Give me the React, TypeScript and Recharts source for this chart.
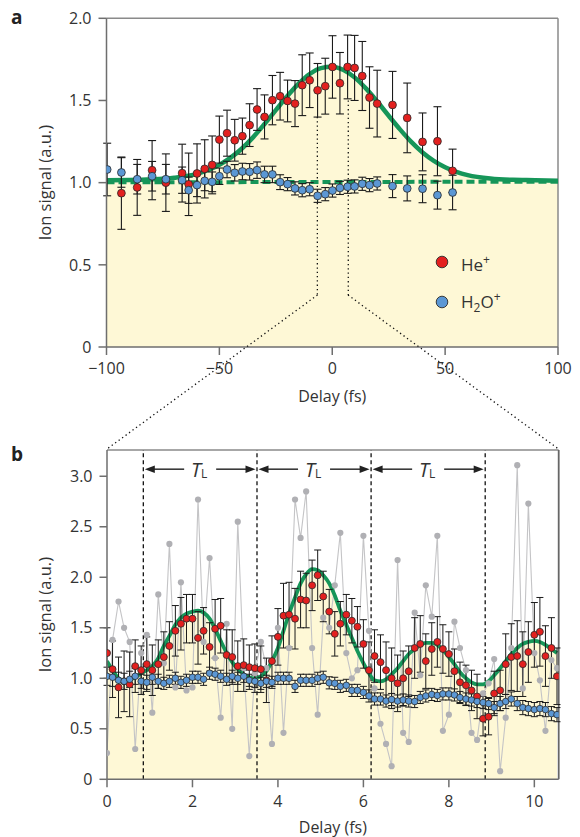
import React from 'react';
import { ComposedChart, Area, Line, Scatter, ErrorBar, XAxis, YAxis, ReferenceLine, Legend } from 'recharts';

const FONT = '"Open Sans", "Liberation Sans", Arial, sans-serif';
const TEXT = '#333333';
const AXIS = '#6e6e6e';
const BORDER = '#8a8a8a';
const YELLOW = '#fef8d6';
const GREEN = '#169659';
const RED = '#e3201f';
const BLUE = '#5b97d4';
const GRAY_DOT = '#b0b0b4';
const GRAY_LINE = '#c4c4c6';

// ---------- Panel a ----------
const delayHeA = [-93.4, -86.4, -79.8, -73.7, -66.5, -63.6, -59.9, -56.5, -53.2, -50, -46.6, -43.2, -39.8, -36.6, -33.3, -30, -26.5, -23.1, -19.8, -16.5, -13.3, -10, -6.5, -3.1, 0.1, 3.4, 6.8, 9.9, 13.3, 16.5, 19.9, 26.7, 33.2, 40, 46.6, 53.3];
const heA = [0.936, 0.971, 1.076, 1.0, 1.058, 0.99, 1.056, 1.084, 1.108, 1.262, 1.301, 1.258, 1.283, 1.35, 1.445, 1.4, 1.502, 1.526, 1.497, 1.481, 1.593, 1.623, 1.562, 1.587, 1.704, 1.605, 1.704, 1.698, 1.649, 1.518, 1.481, 1.473, 1.394, 1.248, 1.252, 1.072];
const heErrA = [0.22, 0.17, 0.18, 0.175, 0.176, 0.19, 0.18, 0.177, 0.176, 0.143, 0.14, 0.127, 0.11, 0.13, 0.127, 0.134, 0.15, 0.145, 0.127, 0.14, 0.185, 0.166, 0.163, 0.17, 0.19, 0.187, 0.194, 0.198, 0.21, 0.187, 0.203, 0.204, 0.212, 0.176, 0.21, 0.132];

const delayH2oA = [-99.7, -93.4, -86.4, -79.8, -73.7, -66.5, -63.6, -59.9, -56.5, -53.2, -50, -46.6, -43.2, -39.8, -36.6, -33.3, -30, -26.5, -23.1, -19.8, -16.5, -13.3, -10, -6.5, -3.1, 0.1, 3.4, 6.8, 9.9, 13.3, 16.5, 19.9, 26.7, 33.2, 40, 46.6, 53.3];
const h2oA = [1.08, 1.062, 1.021, 1.039, 1.021, 1.015, 0.954, 0.985, 1.011, 1.005, 1.039, 1.08, 1.06, 1.068, 1.066, 1.076, 1.05, 1.05, 1.003, 0.991, 0.965, 0.954, 0.96, 0.92, 0.93, 0.952, 0.968, 0.975, 0.977, 0.993, 0.985, 0.995, 0.979, 0.965, 0.963, 0.924, 0.94];
const h2oErrA = [0.16, 0.09, 0.09, 0.09, 0.09, 0.08, 0.08, 0.07, 0.06, 0.06, 0.05, 0.05, 0.05, 0.05, 0.05, 0.05, 0.05, 0.05, 0.045, 0.04, 0.04, 0.04, 0.04, 0.04, 0.04, 0.04, 0.04, 0.04, 0.04, 0.04, 0.04, 0.04, 0.07, 0.076, 0.085, 0.085, 0.105];

const fitDelayA = [-100, -90, -80, -70, -60, -50, -45, -40, -35, -30, -25, -20, -15, -10, -5, 0, 5, 10, 15, 20, 25, 30, 35, 40, 45, 50, 55, 60, 70, 80, 90, 100];
const fitA = [1.015, 1.016, 1.02, 1.03, 1.053, 1.108, 1.152, 1.208, 1.277, 1.357, 1.441, 1.525, 1.601, 1.661, 1.697, 1.705, 1.685, 1.639, 1.572, 1.492, 1.407, 1.324, 1.248, 1.184, 1.133, 1.094, 1.066, 1.046, 1.025, 1.017, 1.015, 1.012];

const baseDelayA = [-100, 100];
const baseA = [1.002, 1.006];

const xTicksA = [-100, -50, 0, 50, 100];
const yTicksA = [0, 0.5, 1, 1.5, 2];

// ---------- Panel b ----------
const delayB = [0.00, 0.13, 0.27, 0.40, 0.53, 0.66, 0.80, 0.93, 1.06, 1.20, 1.33, 1.46, 1.60, 1.73, 1.86, 2.00, 2.13, 2.26, 2.40, 2.53, 2.66, 2.80, 2.93, 3.06, 3.20, 3.33, 3.46, 3.60, 3.73, 3.86, 4.00, 4.13, 4.26, 4.40, 4.53, 4.66, 4.80, 4.93, 5.06, 5.20, 5.33, 5.46, 5.60, 5.73, 5.86, 6.00, 6.13, 6.26, 6.40, 6.53, 6.66, 6.80, 6.93, 7.06, 7.20, 7.33, 7.46, 7.60, 7.73, 7.86, 8.00, 8.13, 8.26, 8.40, 8.53, 8.66, 8.80, 8.93, 9.06, 9.20, 9.33, 9.46, 9.60, 9.73, 9.86, 10.00, 10.13, 10.26, 10.40, 10.53];
const heB = [1.25, 1.09, 0.91, 0.97, 0.94, 1.12, 1.08, 1.14, 1.08, 1.14, 1.21, 1.32, 1.47, 1.54, 1.59, 1.59, 1.40, 1.47, 1.31, 1.49, 1.52, 1.23, 1.21, 1.12, 1.13, 1.11, 1.10, 1.09, 0.98, 1.17, 1.41, 1.62, 1.63, 1.59, 1.78, 1.77, 1.92, 2.02, 1.81, 1.66, 1.44, 1.54, 1.63, 1.57, 1.51, 1.34, 1.08, 1.22, 1.16, 1.08, 1.00, 0.95, 1.00, 1.07, 1.30, 1.34, 1.17, 1.29, 1.36, 1.29, 1.24, 1.07, 0.96, 0.93, 0.88, 0.82, 0.60, 0.62, 0.85, 0.88, 1.14, 1.21, 1.22, 1.14, 1.26, 1.43, 1.46, 1.22, 1.30, 1.02];
const heErrB = [0.25, 0.28, 0.30, 0.30, 0.32, 0.26, 0.24, 0.27, 0.25, 0.24, 0.25, 0.24, 0.25, 0.26, 0.24, 0.24, 0.26, 0.23, 0.24, 0.29, 0.27, 0.25, 0.27, 0.25, 0.26, 0.22, 0.24, 0.23, 0.22, 0.25, 0.28, 0.32, 0.32, 0.30, 0.28, 0.27, 0.25, 0.25, 0.25, 0.22, 0.22, 0.22, 0.20, 0.22, 0.20, 0.24, 0.28, 0.26, 0.27, 0.28, 0.30, 0.28, 0.27, 0.25, 0.30, 0.28, 0.27, 0.26, 0.25, 0.24, 0.22, 0.22, 0.20, 0.20, 0.20, 0.22, 0.17, 0.18, 0.22, 0.20, 0.30, 0.33, 0.35, 0.32, 0.30, 0.32, 0.34, 0.30, 0.30, 0.28];
const h2oB = [1.02, 1.01, 0.98, 0.97, 0.99, 1.02, 0.97, 0.96, 1.01, 0.97, 0.95, 0.97, 1.0, 0.96, 0.98, 1.01, 1.01, 0.99, 1.05, 1.04, 1.02, 0.99, 1.02, 1.0, 1.02, 0.98, 0.97, 0.95, 0.97, 0.96, 1.0, 1.0, 1.0, 0.92, 0.98, 0.98, 0.98, 1.0, 1.01, 0.955, 0.95, 0.92, 0.93, 0.88, 0.88, 0.86, 0.825, 0.795, 0.795, 0.775, 0.79, 0.775, 0.785, 0.775, 0.77, 0.81, 0.825, 0.84, 0.83, 0.845, 0.845, 0.835, 0.81, 0.795, 0.785, 0.77, 0.76, 0.75, 0.71, 0.75, 0.77, 0.795, 0.75, 0.71, 0.70, 0.69, 0.70, 0.69, 0.65, 0.64];
const h2oErrB = [0.09, 0.09, 0.08, 0.08, 0.08, 0.08, 0.07, 0.07, 0.07, 0.07, 0.06, 0.06, 0.06, 0.06, 0.06, 0.06, 0.06, 0.06, 0.06, 0.06, 0.06, 0.06, 0.06, 0.06, 0.06, 0.06, 0.06, 0.06, 0.06, 0.06, 0.06, 0.06, 0.06, 0.06, 0.06, 0.06, 0.06, 0.06, 0.06, 0.06, 0.06, 0.06, 0.06, 0.06, 0.06, 0.06, 0.06, 0.06, 0.06, 0.06, 0.06, 0.06, 0.06, 0.06, 0.06, 0.06, 0.06, 0.06, 0.06, 0.06, 0.06, 0.06, 0.06, 0.06, 0.06, 0.06, 0.06, 0.06, 0.06, 0.07, 0.07, 0.07, 0.07, 0.07, 0.07, 0.07, 0.07, 0.07, 0.07, 0.07];
const rawB = [0.26, 1.38, 1.76, 1.50, 1.36, 0.30, 1.25, 1.43, 0.66, 1.83, 1.15, 2.33, 0.91, 1.95, 0.88, 0.91, 2.77, 1.36, 2.19, 1.20, 0.61, 1.54, 0.50, 2.55, 1.10, 0.23, 1.05, 1.36, 1.10, 0.35, 1.50, 0.46, 1.30, 2.77, 2.39, 2.85, 1.30, 0.64, 1.60, 1.50, 1.92, 2.44, 1.25, 1.00, 1.08, 2.41, 1.47, 0.90, 0.55, 0.35, 0.13, 2.17, 0.46, 0.37, 1.65, 1.03, 1.92, 1.61, 2.41, 0.48, 0.64, 1.56, 1.30, 1.08, 0.46, 0.39, 0.85, 0.95, 1.19, 0.08, 0.61, 1.30, 3.11, 0.90, 2.73, 1.25, 0.98, 0.48, 1.18, 1.10];
const fitB = [1.17, 1.08, 1.00, 0.98, 0.99, 1.01, 1.05, 1.08, 1.12, 1.20, 1.32, 1.42, 1.53, 1.60, 1.64, 1.66, 1.67, 1.65, 1.59, 1.49, 1.37, 1.25, 1.16, 1.09, 1.04, 1.01, 1.00, 1.02, 1.07, 1.17, 1.30, 1.47, 1.64, 1.80, 1.94, 2.03, 2.08, 2.07, 2.02, 1.94, 1.82, 1.67, 1.53, 1.40, 1.27, 1.15, 1.05, 0.98, 0.97, 0.99, 1.04, 1.10, 1.17, 1.24, 1.29, 1.33, 1.35, 1.35, 1.33, 1.28, 1.21, 1.14, 1.06, 1.00, 0.96, 0.94, 0.94, 0.97, 1.03, 1.10, 1.17, 1.24, 1.30, 1.34, 1.36, 1.37, 1.36, 1.33, 1.29, 1.25];

const periodMarksB = [0.85, 3.51, 6.18, 8.85];
const arrowLevelB = 3.07;
const xTicksB = [0, 2, 4, 6, 8, 10];
const yTicksB = [0, 0.5, 1, 1.5, 2, 2.5, 3];

// ---------- rows built from the arrays ----------
const heRowsA = delayHeA.map((delay, i) => ({ delay, value: heA[i], err: heErrA[i] }));
const h2oRowsA = delayH2oA.map((delay, i) => ({ delay, value: h2oA[i], err: h2oErrA[i] }));
const fitRowsA = fitDelayA.map((delay, i) => ({ delay, fit: fitA[i] }));
const baseRowsA = baseDelayA.map((delay, i) => ({ delay, base: baseA[i] }));
const rowsB = delayB.map((delay, i) => ({
  delay, he: heB[i], heErr: heErrB[i], h2o: h2oB[i], h2oErr: h2oErrB[i], raw: rawB[i], fit: fitB[i],
}));

const fmtY = (v: number) => (v === 0 ? '0' : v.toFixed(1));
const fmtX = (v: number) => (v < 0 ? '\u2212' + Math.abs(v) : String(v));

const marker = (fill: string, r: number) => (p: any) => (
  <circle cx={p.cx} cy={p.cy} r={r} fill={fill} stroke="#2a2a2a" strokeWidth={0.8} />
);

const yTitle = (offsetX: number, shiftY: number) => (p: any) => {
  const vb = p.viewBox || {};
  const cx = (vb.x || 0) + offsetX;
  const cy = (vb.y || 0) + (vb.height || 0) / 2 + shiftY;
  return (
    <text x={cx} y={cy} transform={`rotate(-90 ${cx} ${cy})`} textAnchor="middle" dominantBaseline="central"
      fontFamily={FONT} fontSize={16.5} fill={TEXT}>Ion signal (a.u.)</text>
  );
};

const TLArrow = (p: any) => {
  const { x1, y1, x2 } = p;
  const mid = (x1 + x2) / 2;
  const y = y1;
  const head = 10;
  const hw = 3.8;
  const l1 = x1 + 1.5;
  const r2 = x2 - 1.5;
  return (
    <g>
      <line x1={l1 + head - 1} y1={y} x2={mid - 16} y2={y} stroke="#3a3a3a" strokeWidth={1.6} />
      <polygon points={`${l1},${y} ${l1 + head},${y - hw} ${l1 + head},${y + hw}`} fill="#222" />
      <line x1={mid + 16} y1={y} x2={r2 - head + 1} y2={y} stroke="#3a3a3a" strokeWidth={1.6} />
      <polygon points={`${r2},${y} ${r2 - head},${y - hw} ${r2 - head},${y + hw}`} fill="#222" />
      <text x={mid - 1} y={y + 7.5} textAnchor="middle" fontFamily={FONT} fill={TEXT}>
        <tspan fontStyle="italic" fontSize={20}>T</tspan>
        <tspan fontSize={12} dy={1.5}>L</tspan>
      </text>
    </g>
  );
};

const LegendA = () => (
  <div style={{ fontFamily: FONT, fontSize: 17, color: TEXT, lineHeight: '32px' }}>
    <div style={{ display: 'flex', alignItems: 'center' }}>
      <svg width={14} height={14}><circle cx={7} cy={7} r={5.8} fill={RED} stroke="#2a2a2a" strokeWidth={0.9} /></svg>
      <span style={{ marginLeft: 12 }}>He<sup style={{ fontSize: 12 }}>+</sup></span>
    </div>
    <div style={{ display: 'flex', alignItems: 'center' }}>
      <svg width={14} height={14}><circle cx={7} cy={7} r={5.8} fill={BLUE} stroke="#2a2a2a" strokeWidth={0.9} /></svg>
      <span style={{ marginLeft: 12 }}>H<sub style={{ fontSize: 12 }}>2</sub>O<sup style={{ fontSize: 12 }}>+</sup></span>
    </div>
  </div>
);

const tickStyle = { fontFamily: FONT, fontSize: 16, fill: TEXT };

export default function App() {
  return (
    <div style={{ position: 'absolute', left: 0, top: 0, width: 580, height: 837, background: '#fff', fontFamily: FONT, overflow: 'hidden' }}>
      <div style={{ position: 'absolute', left: 11, top: 4, fontSize: 19, fontWeight: 700, color: '#222' }}>a</div>
      <div style={{ position: 'absolute', left: 11, top: 441, fontSize: 19, fontWeight: 700, color: '#222' }}>b</div>

      {/* Panel a */}
      <div style={{ position: 'absolute', left: 0, top: 0 }}>
        <ComposedChart width={580} height={410} margin={{ top: 18.3, right: 22, bottom: 8.5, left: 0 }}>
          <XAxis dataKey="delay" type="number" domain={[-100, 100]} ticks={xTicksA} tickFormatter={fmtX}
            allowDataOverflow tick={tickStyle} tickSize={8} tickMargin={8} height={54.5}
            stroke={AXIS} strokeWidth={1.5}
            label={{ value: 'Delay (fs)', position: 'insideBottom', offset: 0, fontFamily: FONT, fontSize: 16, fill: TEXT }} />
          <YAxis type="number" domain={[0, 2]} ticks={yTicksA} tickFormatter={fmtY} allowDataOverflow
            tick={tickStyle} tickSize={8} tickMargin={7} width={106.5} stroke={AXIS} strokeWidth={1.5}
            label={yTitle(45, 0)} />
          <Area data={fitRowsA} dataKey="fit" type="monotone" stroke="none" fill={YELLOW} fillOpacity={1} isAnimationActive={false} />
          <ReferenceLine y={2} stroke={BORDER} strokeWidth={1.5} ifOverflow="visible" />
          <ReferenceLine x={100} stroke={BORDER} strokeWidth={1.5} ifOverflow="visible" />
          <ReferenceLine segment={[{ x: -6.6, y: 1.4 }, { x: -6.6, y: 0.316 }]} stroke="#111" strokeWidth={1.3} strokeDasharray="1.3 3" />
          <ReferenceLine segment={[{ x: 7.1, y: 1.5 }, { x: 7.1, y: 0.316 }]} stroke="#111" strokeWidth={1.3} strokeDasharray="1.3 3" />
          <Line data={baseRowsA} dataKey="base" type="linear" stroke={GREEN} strokeWidth={4} strokeDasharray="8 4" dot={false} isAnimationActive={false} />
          <Line data={fitRowsA} dataKey="fit" type="monotone" stroke={GREEN} strokeWidth={4.5} dot={false} isAnimationActive={false} />
          <Scatter data={heRowsA} dataKey="value" shape={marker(RED, 3.9)} isAnimationActive={false}>
            <ErrorBar dataKey="err" direction="y" width={4} stroke="#1a1a1a" strokeWidth={1.1} />
          </Scatter>
          <Scatter data={h2oRowsA} dataKey="value" shape={marker(BLUE, 3.9)} isAnimationActive={false}>
            <ErrorBar dataKey="err" direction="y" width={4} stroke="#1a1a1a" strokeWidth={1.1} />
          </Scatter>
          <Legend layout="horizontal" verticalAlign="middle" align="center"
            wrapperStyle={{ left: 435, top: 244, width: 100, height: 64 }} content={() => <LegendA />} />
        </ComposedChart>
      </div>

      {/* Panel b */}
      <div style={{ position: 'absolute', left: 0, top: 440 }}>
        <ComposedChart width={580} height={397} data={rowsB} margin={{ top: 10, right: 21.3, bottom: 4, left: 0 }}>
          <XAxis dataKey="delay" type="number" domain={[0, 10.57]} ticks={xTicksB} allowDataOverflow
            tick={tickStyle} tickSize={8} tickMargin={8} height={53.7} stroke={AXIS} strokeWidth={1.5}
            label={{ value: 'Delay (fs)', position: 'insideBottom', offset: 0, fontFamily: FONT, fontSize: 16, fill: TEXT }} />
          <YAxis type="number" domain={[0, 3.26]} ticks={yTicksB} tickFormatter={fmtY} allowDataOverflow
            tick={tickStyle} tickSize={7.5} tickMargin={7} width={107} stroke={AXIS} strokeWidth={1.5}
            label={yTitle(45, 0)} />
          <Area dataKey="fit" type="monotone" stroke="none" fill={YELLOW} fillOpacity={1} isAnimationActive={false} />
          <ReferenceLine y={3.26} stroke={BORDER} strokeWidth={1.5} ifOverflow="visible" />
          <ReferenceLine x={10.57} stroke="#666" strokeWidth={1.8} ifOverflow="visible" />
          {periodMarksB.map((m) => (
            <ReferenceLine key={m} x={m} stroke="#111" strokeWidth={1.3} strokeDasharray="4 3" />
          ))}
          {periodMarksB.slice(0, 3).map((m, i) => (
            <ReferenceLine key={'a' + m} segment={[{ x: m, y: arrowLevelB }, { x: periodMarksB[i + 1], y: arrowLevelB }]}
              shape={TLArrow} />
          ))}
          <Line dataKey="raw" type="linear" stroke={GRAY_LINE} strokeWidth={1.1}
            dot={{ r: 3.1, fill: GRAY_DOT, stroke: 'none' }} isAnimationActive={false} />
          <Line dataKey="fit" type="monotone" stroke={GREEN} strokeWidth={3.8} dot={false} isAnimationActive={false} />
          <Scatter dataKey="he" shape={marker(RED, 3.5)} isAnimationActive={false}>
            <ErrorBar dataKey="heErr" direction="y" width={3.5} stroke="#1a1a1a" strokeWidth={1} />
          </Scatter>
          <Scatter dataKey="h2o" shape={marker(BLUE, 3.3)} isAnimationActive={false}>
            <ErrorBar dataKey="h2oErr" direction="y" width={3.5} stroke="#1a1a1a" strokeWidth={1} />
          </Scatter>
        </ComposedChart>
      </div>

      {/* dotted zoom connectors between the panels */}
      <svg width={580} height={837} style={{ position: 'absolute', left: 0, top: 0, pointerEvents: 'none' }}>
        <line x1={317.5} y1={295} x2={107} y2={449} stroke="#111" strokeWidth={1.3} strokeDasharray="1.3 3" />
        <line x1={348} y1={295} x2={558.5} y2={449} stroke="#111" strokeWidth={1.3} strokeDasharray="1.3 3" />
      </svg>
    </div>
  );
}
